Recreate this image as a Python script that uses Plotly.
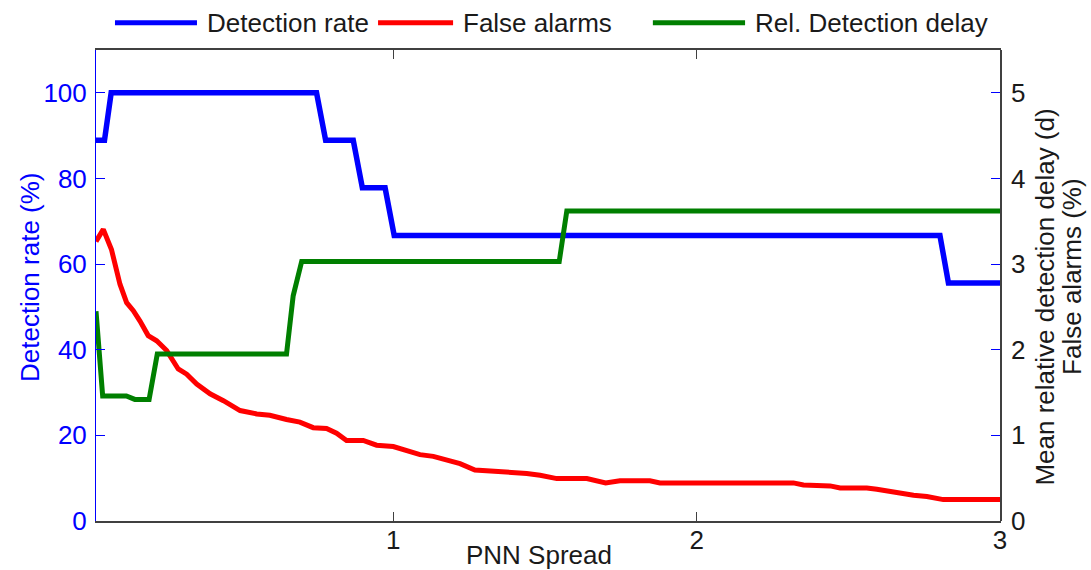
import plotly.graph_objects as go

# PNN spread values and the three performance measures
spread_detection = [0.02, 0.048, 0.07, 0.747, 0.777, 0.868, 0.898, 0.973, 1.003, 2.802, 2.83, 3.0]
detection_rate = [88.9, 88.9, 100, 100, 88.9, 88.9, 77.8, 77.8, 66.7, 66.7, 55.6, 55.6]

spread_false = [0.02, 0.044, 0.071, 0.099, 0.121, 0.143, 0.165, 0.192, 0.22, 0.253, 0.291,
                0.319, 0.352, 0.396, 0.44, 0.495, 0.55, 0.593, 0.648, 0.692, 0.736, 0.78,
                0.813, 0.846, 0.901, 0.945, 1.0, 1.044, 1.088, 1.132, 1.187, 1.22, 1.269,
                1.33, 1.374, 1.44, 1.484, 1.539, 1.638, 1.70, 1.747, 1.846, 1.879, 2.319,
                2.352, 2.44, 2.473, 2.561, 2.594, 2.627, 2.671, 2.715, 2.759, 2.78, 2.813, 3.0]
false_alarms = [65.3, 68.1, 63.4, 55.3, 51.0, 49.1, 46.7, 43.3, 42.1, 39.8, 35.5,
                34.3, 32.0, 29.7, 28.1, 25.8, 25.0, 24.7, 23.7, 23.1, 21.8, 21.6,
                20.5, 18.8, 18.8, 17.7, 17.4, 16.3, 15.5, 15.1, 14.0, 13.4, 11.9,
                11.7, 11.5, 11.1, 10.7, 9.9, 9.9, 8.9, 9.4, 9.4, 8.9, 8.9,
                8.4, 8.2, 7.7, 7.7, 7.4, 7.0, 6.6, 6.0, 5.7, 5.5, 5.0, 5.0]

spread_delay = [0.02, 0.042, 0.12, 0.148, 0.195, 0.222, 0.648, 0.670, 0.698, 1.547, 1.572, 3.0]
detection_delay = [2.45, 1.46, 1.46, 1.42, 1.42, 1.95, 1.95, 2.63, 3.03, 3.03, 3.62, 3.62]

left_ticks = [0, 20, 40, 60, 80, 100]
right_ticks = [0, 1, 2, 3, 4, 5]
x_ticks = [1, 2, 3]

BLUE = "#0000FF"
RED = "#FF0000"
GREEN = "#007F00"
INK = "#1a1a1a"
FONT = "Liberation Sans, Arial, sans-serif"
FS = 26

fig = go.Figure()
fig.add_trace(go.Scatter(x=spread_detection, y=detection_rate, mode="lines",
                         line=dict(color=BLUE, width=5.5), name="Detection rate"))
fig.add_trace(go.Scatter(x=spread_false, y=false_alarms, mode="lines",
                         line=dict(color=RED, width=5), name="False alarms"))
fig.add_trace(go.Scatter(x=spread_delay, y=detection_delay, mode="lines", yaxis="y2",
                         line=dict(color=GREEN, width=5), name="Rel. Detection delay"))

fig.update_layout(
    width=1091, height=570,
    margin=dict(l=96, r=91, t=50, b=49),
    paper_bgcolor="white", plot_bgcolor="white",
    showlegend=False,
    font=dict(family=FONT, size=FS, color=INK),
    xaxis=dict(range=[0.02, 3], tickvals=x_ticks, ticktext=[str(v) for v in x_ticks],
               showgrid=False, zeroline=False, showline=True, linecolor="#404040",
               linewidth=1.5, mirror="ticks", ticks="inside", ticklen=9, tickcolor="#404040",
               tickfont=dict(size=FS, color=INK), ticklabelstandoff=-5),
    yaxis=dict(range=[0, 110], tickvals=left_ticks, showgrid=False, zeroline=False,
               showline=True, linecolor=BLUE, linewidth=1, mirror="ticks",
               ticks="inside", ticklen=9, tickcolor=BLUE,
               tickfont=dict(size=FS, color=BLUE), ticklabelstandoff=3),
    yaxis2=dict(range=[0, 5.5], tickvals=right_ticks, overlaying="y", side="right",
                showgrid=False, zeroline=False, showline=True, linecolor="#404040",
                linewidth=1.5, ticks="", tickfont=dict(size=FS, color=INK),
                ticklabelstandoff=4),
)

# axis titles
fig.add_annotation(text="Detection rate (%)", xref="paper", yref="paper",
                   x=-0.073, y=0.518, textangle=-90, showarrow=False,
                   font=dict(size=FS, color=BLUE), xanchor="center", yanchor="middle")
fig.add_annotation(text="Mean relative detection delay (d)", xref="paper", yref="paper",
                   x=1.0495, y=0.476, textangle=-90, showarrow=False,
                   font=dict(size=FS, color=INK), xanchor="center", yanchor="middle")
fig.add_annotation(text="False alarms (%)", xref="paper", yref="paper",
                   x=1.0795, y=0.518, textangle=-90, showarrow=False,
                   font=dict(size=FS, color=INK), xanchor="center", yanchor="middle")
fig.add_annotation(text="PNN Spread", xref="paper", yref="paper",
                   x=0.490, y=-0.072, showarrow=False,
                   font=dict(size=FS, color=INK), xanchor="center", yanchor="middle")

# legend row along the top
legend_items = [
    ("Detection rate", BLUE, 0.021, 0.1117, 0.1206),
    ("False alarms", RED, 0.312, 0.395, 0.404),
    ("Rel. Detection delay", GREEN, 0.616, 0.718, 0.727),
]
for label, color, x0, x1, xt in legend_items:
    fig.add_shape(type="line", xref="paper", yref="paper", x0=x0, x1=x1, y0=1.058, y1=1.058,
                  line=dict(color=color, width=5))
    fig.add_annotation(text=label, xref="paper", yref="paper", x=xt, y=1.058,
                       showarrow=False, xanchor="left", yanchor="middle",
                       font=dict(size=FS, color=INK))

fig.write_html("out.html", config={"displayModeBar": False})
